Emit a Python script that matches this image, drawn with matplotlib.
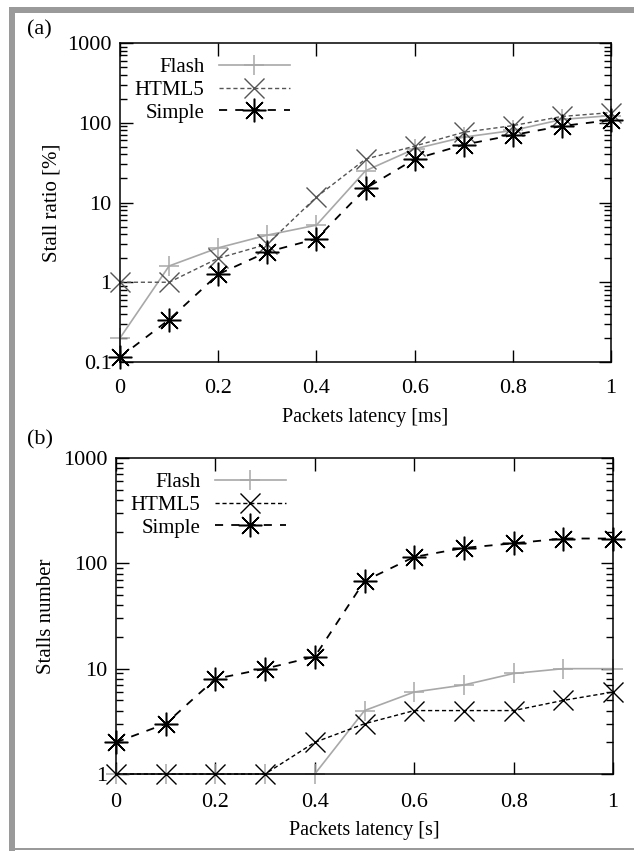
import numpy as np
import matplotlib
matplotlib.use("Agg")
import matplotlib.pyplot as plt
from matplotlib.patches import Rectangle
from matplotlib.ticker import LogLocator, NullFormatter, FixedLocator

plt.rcParams['font.family'] = ['Liberation Serif', 'DejaVu Serif']
plt.rcParams['font.size'] = 16

latency = [0, 0.1, 0.2, 0.3, 0.4, 0.5, 0.6, 0.7, 0.8, 0.9, 1.0]

# (a) stall ratio [%]
ratio_flash = [0.2, 1.6, 2.7, 3.9, 5.2, 25, 47, 66, 80, 110, 123]
ratio_html5 = [1.0, 1.0, 2.0, 3.0, 11.7, 35, 51, 76, 92, 120, 134]
ratio_simple = [0.115, 0.34, 1.26, 2.4, 3.5, 15, 35, 53, 70, 91, 108]

# (b) stalls number
num_flash = [1, 1, 1, 1, 1, 4, 6, 7, 9, 10, 10]
num_html5 = [1, 1, 1, 1, 2, 3, 4, 4, 4, 5, 6]
num_simple = [2, 3, 8, 10, 13, 68, 115, 140, 155, 172, 172]

W, H = 634, 851
fig = plt.figure(figsize=(W / 100, H / 100), dpi=100)

# grey page frame
fig.add_artist(Rectangle((9 / W, 0), 6 / W, 1 - 7 / H, transform=fig.transFigure,
                         color='#9a9a9a', lw=0))
fig.add_artist(Rectangle((9 / W, 1 - 13 / H), 1, 6 / H, transform=fig.transFigure,
                         color='#9a9a9a', lw=0))
fig.add_artist(Rectangle((9 / W, 1 - 850 / H), 1, 2 / H, transform=fig.transFigure,
                         color='#9a9a9a', lw=0))

axa = fig.add_axes([120 / W, 1 - 362 / H, 491 / W, 319 / H])
axb = fig.add_axes([116 / W, 1 - 774 / H, 497 / W, 316 / H])

grey = '#a8a8a8'
dgrey = '#555555'
ms = 14


def draw(ax, flash, html5, simple, html_col):
    ax.plot(latency, flash, '-', color=grey, lw=1.2, marker='+', ms=ms,
            mew=1.1, clip_on=False, label='Flash')
    ax.plot(latency, html5, '--', color=html_col, lw=1.0, dashes=(3, 2),
            marker='x', ms=ms, mew=1.0, clip_on=False, label='HTML5')
    ax.plot(latency, simple, '--', color='black', lw=1.3, dashes=(4.5, 4.5),
            marker=(8, 2, 0), ms=ms + 3, mew=1.1, clip_on=False, label='Simple')


draw(axa, ratio_flash, ratio_html5, ratio_simple, dgrey)
draw(axb, num_flash, num_html5, num_simple, 'black')

for ax, ylo, xpad in ((axa, 0.1, 12.5), (axb, 1, 14)):
    ax.set_yscale('log')
    ax.set_ylim(ylo, 1000)
    ax.set_xlim(0, 1)
    ax.xaxis.set_major_locator(FixedLocator([0, 0.2, 0.4, 0.6, 0.8, 1.0]))
    ax.set_xticklabels(['0', '0.2', '0.4', '0.6', '0.8', '1'])
    ax.yaxis.set_major_locator(LogLocator(base=10))
    ax.yaxis.set_minor_locator(LogLocator(base=10, subs=np.arange(2, 10)))
    ax.yaxis.set_minor_formatter(NullFormatter())
    ax.tick_params(which='both', direction='in', top=True, right=True,
                   labelsize=16, pad=6, width=1)
    ax.tick_params(axis='x', which='major', pad=xpad)
    ax.tick_params(which='major', length=9)
    ax.tick_params(which='minor', length=5)
    for s in ax.spines.values():
        s.set_linewidth(1.1)
    ax.legend(loc='upper left', markerfirst=False, frameon=False,
              handlelength=3.4, fontsize=15, labelspacing=0.15,
              borderaxespad=0.3, handletextpad=0.7)

axa.set_yticks([0.1, 1, 10, 100, 1000])
axa.set_yticklabels(['0.1', '1', '10', '100', '1000'])
axb.set_yticks([1, 10, 100, 1000])
axb.set_yticklabels(['1', '10', '100', '1000'])

axa.set_xlabel('Packets latency [ms]', fontsize=14.5, labelpad=7)
axa.set_ylabel('Stall ratio [%]', fontsize=15, labelpad=4)
axb.set_xlabel('Packets latency [s]', fontsize=14.5, labelpad=6)
axb.set_ylabel('Stalls number', fontsize=15, labelpad=5)

fig.text(27 / W, 1 - 30 / H, '(a)', fontsize=16, ha='left', va='center')
fig.text(27 / W, 1 - 440 / H, '(b)', fontsize=16, ha='left', va='center')

fig.savefig('out.png', dpi=100)
